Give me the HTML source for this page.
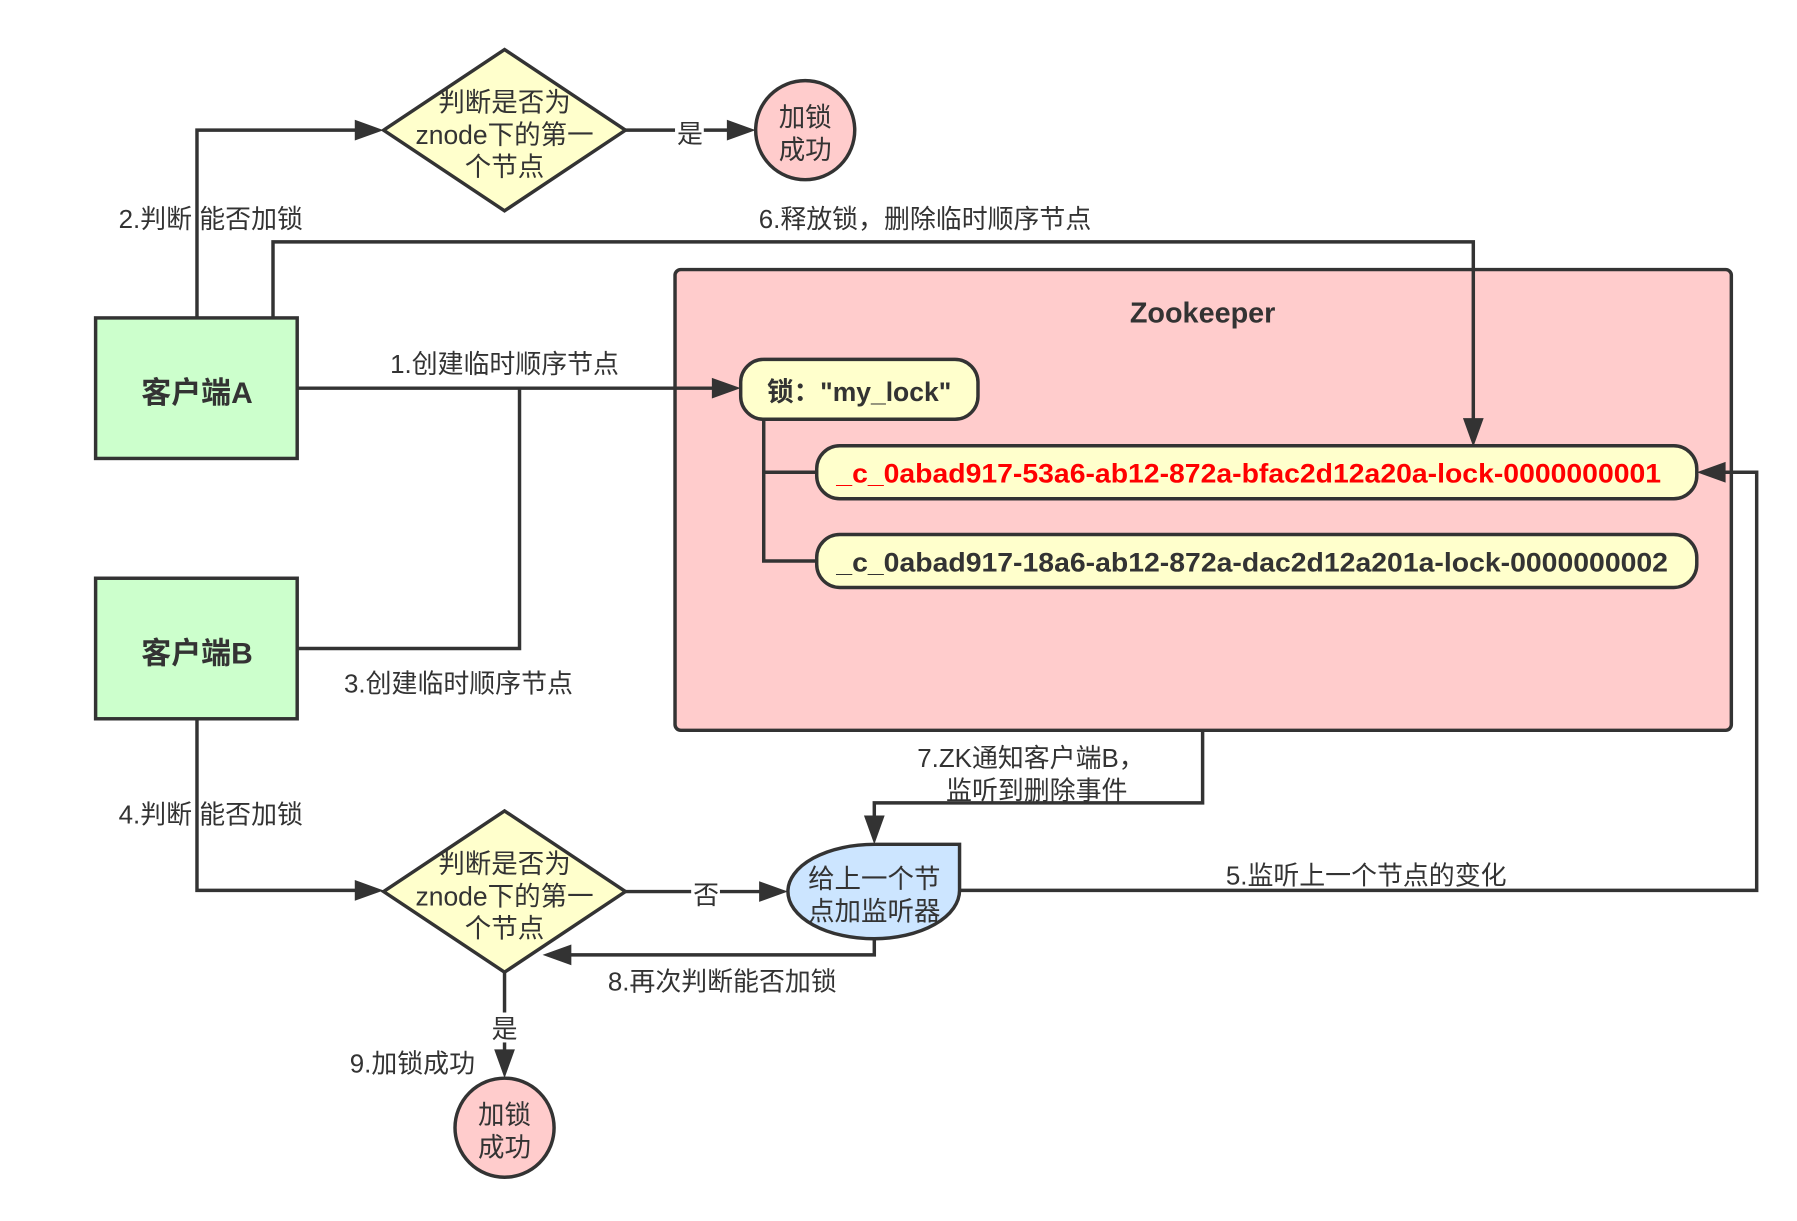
<!DOCTYPE html>
<html><head><meta charset="utf-8"><style>
html,body{margin:0;padding:0;background:#fff;}
svg{display:block;}
text{font-family:"Liberation Sans","Noto Sans CJK SC",sans-serif;fill:#333;}
</style></head><body>
<svg width="1797" height="1221" viewBox="0 0 1560 1060" preserveAspectRatio="none" xmlns="http://www.w3.org/2000/svg">
<rect x="586" y="234" width="917" height="400" rx="5" fill="#ffcccc" stroke="#333" stroke-width="3"/>
<text x="1044" y="280" font-size="25" font-weight="bold" text-anchor="middle">Zookeeper</text>

<g fill="none" stroke="#333" stroke-width="3">
<polyline points="171,276 171,113 312,113"/>
<polyline points="543,113 636,113"/>
<polyline points="237,276 237,210 1279,210 1279,366"/>
<polyline points="258,337 622,337"/>
<polyline points="258,563 451,563 451,337"/>
<polyline points="663,364 663,487 709,487"/>
<polyline points="663,410 709,410"/>
<polyline points="1044,634 1044,697 759,697 759,712"/>
<polyline points="833,773 1525,773 1525,410 1494,410"/>
<polyline points="171,624 171,773 312,773"/>
<polyline points="543,774 663,774"/>
<polyline points="759,815 759,829 492,829"/>
<polyline points="438,844 438,915"/>
</g>
<g fill="#333">
<polygon points="333,113 308,104 308,122"/>
<polygon points="656,113 631,104 631,122"/>
<polygon points="1279,388 1270,363 1288,363"/>
<polygon points="643,337 618,328 618,346"/>
<polygon points="759,733 750,708 768,708"/>
<polygon points="1473,410 1498,401 1498,419"/>
<polygon points="333,773 308,764 308,782"/>
<polygon points="684,774 659,765 659,783"/>
<polygon points="471,829 496,820 496,838"/>
<polygon points="438,936 429,911 447,911"/>
</g>
<rect x="586" y="101" width="25" height="26" fill="#fff"/>
<rect x="600" y="762" width="25" height="26" fill="#fff"/>
<rect x="426" y="879" width="25" height="26" fill="#fff"/>

<rect x="643" y="312" width="206" height="52" rx="20" fill="#ffffcc" stroke="#333" stroke-width="3"/>
<text x="666" y="348" font-size="23" font-weight="bold">锁："my_lock"</text>
<rect x="709" y="387" width="764" height="46" rx="20" fill="#ffffcc" stroke="#333" stroke-width="3"/>
<text x="726" y="419" font-size="23" font-weight="bold" style="fill:#ff0000" textLength="716" lengthAdjust="spacingAndGlyphs">_c_0abad917-53a6-ab12-872a-bfac2d12a20a-lock-0000000001</text>
<rect x="709" y="464" width="764" height="46" rx="20" fill="#ffffcc" stroke="#333" stroke-width="3"/>
<text x="726" y="496" font-size="23" font-weight="bold" textLength="722" lengthAdjust="spacingAndGlyphs">_c_0abad917-18a6-ab12-872a-dac2d12a201a-lock-0000000002</text>

<rect x="83" y="276" width="175" height="122" fill="#ccffcc" stroke="#333" stroke-width="3"/>
<text x="171" y="350" font-size="26" font-weight="bold" text-anchor="middle">客户端A</text>
<rect x="83" y="502" width="175" height="122" fill="#ccffcc" stroke="#333" stroke-width="3"/>
<text x="171" y="576" font-size="26" font-weight="bold" text-anchor="middle">客户端B</text>

<polygon points="438,43 543,113 438,183 333,113" fill="#ffffcc" stroke="#333" stroke-width="3"/>
<g font-size="23" text-anchor="middle">
<text x="438" y="97">判断是否为</text>
<text x="438" y="125">znode下的第一</text>
<text x="438" y="153">个节点</text>
</g>
<polygon points="438,704 543,774 438,844 333,774" fill="#ffffcc" stroke="#333" stroke-width="3"/>
<g font-size="23" text-anchor="middle">
<text x="438" y="758">判断是否为</text>
<text x="438" y="786">znode下的第一</text>
<text x="438" y="814">个节点</text>
</g>

<ellipse cx="699" cy="113" rx="43" ry="43" fill="#ffcccc" stroke="#333" stroke-width="3"/>
<text x="699" y="110" font-size="23" text-anchor="middle">加锁</text>
<text x="699" y="138" font-size="23" text-anchor="middle">成功</text>
<ellipse cx="438" cy="979" rx="43" ry="43" fill="#ffcccc" stroke="#333" stroke-width="3"/>
<text x="438" y="976" font-size="23" text-anchor="middle">加锁</text>
<text x="438" y="1004" font-size="23" text-anchor="middle">成功</text>

<path d="M759,733 L833,733 L833,773 A75,42 0 0 1 759,815 A75,41 0 0 1 684,774 A75,41 0 0 1 759,733 Z" fill="#cce5ff" stroke="#333" stroke-width="3"/>
<text x="759" y="771" font-size="23" text-anchor="middle">给上一个节</text>
<text x="759" y="799" font-size="23" text-anchor="middle">点加监听器</text>

<g font-size="22.5">
<text x="599" y="124" text-anchor="middle">是</text>
<text x="613" y="785" text-anchor="middle">否</text>
<text x="438" y="901" text-anchor="middle">是</text>
<text x="103" y="198">2.判断 能否加锁</text>
<text x="103" y="715">4.判断 能否加锁</text>
<text x="803" y="198" text-anchor="middle">6.释放锁，删除临时顺序节点</text>
<text x="438" y="324" text-anchor="middle">1.创建临时顺序节点</text>
<text x="398" y="601" text-anchor="middle">3.创建临时顺序节点</text>
<text x="895" y="666" text-anchor="middle">7.ZK通知客户端B，</text>
<text x="900" y="694" text-anchor="middle">监听到删除事件</text>
<text x="1186" y="768" text-anchor="middle">5.监听上一个节点的变化</text>
<text x="627" y="860" text-anchor="middle">8.再次判断能否加锁</text>
<text x="358" y="931" text-anchor="middle">9.加锁成功</text>
</g>
</svg>
</body></html>
